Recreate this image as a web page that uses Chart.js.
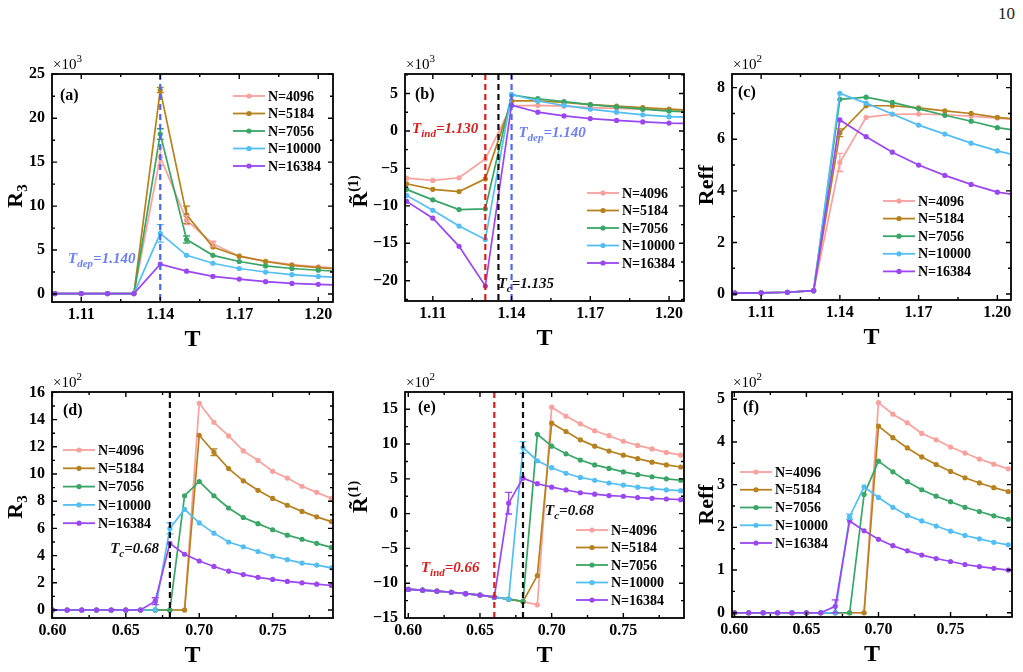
<!DOCTYPE html>
<html>
<head>
<meta charset="utf-8">
<script src="https://cdn.jsdelivr.net/npm/chart.js@4.4.1/dist/chart.umd.min.js"></script>
<style>
  body { margin: 0; background: #fff; width: 1023px; height: 672px; position: relative; overflow: hidden; }
  canvas { position: absolute; }
  #pageNum { position: absolute; right: 8px; top: 4px; font: 17px "Liberation Serif", serif; color: #222; }
</style>
</head>
<body>
<div id="pageNum">10</div>
<canvas id="cA"></canvas>
<canvas id="cB"></canvas>
<canvas id="cC"></canvas>
<canvas id="cD"></canvas>
<canvas id="cE"></canvas>
<canvas id="cF"></canvas>
<script>
const SERIF = '"Liberation Serif", "Times New Roman", serif';

// series
const seriesNames = ['N=4096', 'N=5184', 'N=7056', 'N=10000', 'N=16384'];
const seriesColors = ['#f8a19d', '#b5821f', '#39a566', '#53bef4', '#9a46f1'];

// temperatures (top row runs one step past the right edge)
const tTop = [1.10, 1.11, 1.12, 1.13, 1.14, 1.15, 1.16, 1.17, 1.18, 1.19, 1.20, 1.21];
const tBot = [0.60, 0.61, 0.62, 0.63, 0.64, 0.65, 0.66, 0.67, 0.68, 0.69,
              0.70, 0.71, 0.72, 0.73, 0.74, 0.75, 0.76, 0.77, 0.78, 0.79];

// tick labels
const xTicksTop = [1.11, 1.14, 1.17, 1.20];
const xTicksBot = [0.60, 0.65, 0.70, 0.75];
const yTicksA = [0, 5, 10, 15, 20, 25];
const yTicksB = [-20, -15, -10, -5, 0, 5];
const yTicksC = [0, 2, 4, 6, 8];
const yTicksD = [0, 2, 4, 6, 8, 10, 12, 14, 16];
const yTicksE = [-15, -10, -5, 0, 5, 10, 15];
const yTicksF = [0, 1, 2, 3, 4, 5];

// (a) R3, x10^3
const a4096  = [0.05, 0.05, 0.05, 0.05, 15.6, 8.4, 5.7, 4.3, 3.75, 3.35, 3.1, 2.9];
const a5184  = [0.05, 0.05, 0.05, 0.05, 23.2, 9.0, 5.35, 4.3, 3.7, 3.25, 3.0, 2.8];
const a7056  = [0.05, 0.05, 0.05, 0.05, 18.2, 6.2, 4.4, 3.7, 3.2, 2.9, 2.7, 2.55];
const a10000 = [0.05, 0.05, 0.05, 0.05, 6.9, 4.4, 3.5, 2.9, 2.5, 2.2, 2.0, 1.85];
const a16384 = [0.05, 0.05, 0.05, 0.05, 3.4, 2.6, 2.0, 1.7, 1.4, 1.2, 1.1, 1.0];

// (b) R~(1), x10^3
const b4096  = [-6.3, -6.6, -6.25, -3.75, 3.35, 3.4, 3.3, 3.1, 3.0, 2.9, 2.8, 2.7];
const b5184  = [-7.05, -7.8, -8.1, -6.4, 4.0, 4.0, 3.8, 3.5, 3.3, 3.1, 2.9, 2.75];
const b7056  = [-7.8, -9.2, -10.5, -10.4, 4.8, 4.3, 3.9, 3.5, 3.2, 2.9, 2.65, 2.5];
const b10000 = [-8.6, -10.6, -12.7, -14.5, 4.9, 4.0, 3.4, 2.9, 2.5, 2.15, 1.9, 1.8];
const b16384 = [-9.4, -11.65, -15.4, -20.7, 3.45, 2.5, 2.0, 1.65, 1.4, 1.2, 1.05, 1.0];

// (c) Reff, x10^2
const c4096  = [0.04, 0.05, 0.07, 0.13, 5.1, 6.85, 6.97, 6.98, 6.95, 6.9, 6.82, 6.75];
const c5184  = [0.04, 0.05, 0.07, 0.13, 6.25, 7.3, 7.3, 7.22, 7.1, 7.0, 6.85, 6.75];
const c7056  = [0.04, 0.05, 0.07, 0.13, 7.55, 7.63, 7.43, 7.18, 6.93, 6.7, 6.45, 6.3];
const c10000 = [0.04, 0.05, 0.07, 0.13, 7.78, 7.4, 6.98, 6.55, 6.2, 5.85, 5.55, 5.3];
const c16384 = [0.04, 0.05, 0.07, 0.13, 6.75, 6.1, 5.5, 5.0, 4.6, 4.25, 3.95, 3.8];

// (d) R3, x10^2
const d4096  = [0, 0, 0, 0, 0, 0, 0, 0, 0, 0, 15.2, 13.8, 12.8, 11.7, 11.0, 10.2, 9.7, 9.1, 8.65, 8.2];
const d5184  = [0, 0, 0, 0, 0, 0, 0, 0, 0, 0, 12.85, 11.6, 10.4, 9.5, 8.8, 8.2, 7.7, 7.25, 6.85, 6.5];
const d7056  = [0, 0, 0, 0, 0, 0, 0, 0, 0, 8.4, 9.45, 8.4, 7.5, 6.8, 6.35, 5.9, 5.5, 5.2, 4.9, 4.6];
const d10000 = [0, 0, 0, 0, 0, 0, 0, 0, 6.0, 7.4, 6.4, 5.65, 5.0, 4.65, 4.3, 3.95, 3.7, 3.45, 3.3, 3.1];
const d16384 = [0, 0, 0, 0, 0, 0, 0, 0.65, 4.9, 4.1, 3.6, 3.2, 2.85, 2.6, 2.4, 2.25, 2.1, 2.0, 1.9, 1.8];

// (e) R~(1), x10^2
const e4096  = [-10.9, -11.0, -11.15, -11.3, -11.5, -11.7, -12.0, -12.3, -12.65, -13.1, 15.3, 14.0, 12.9, 11.9, 11.2, 10.4, 9.8, 9.3, 8.8, 8.4];
const e5184  = [-10.9, -11.0, -11.15, -11.3, -11.5, -11.7, -12.0, -12.3, -12.65, -8.9, 13.0, 11.8, 10.6, 9.7, 9.0, 8.4, 7.9, 7.4, 7.0, 6.7];
const e7056  = [-10.9, -11.0, -11.15, -11.3, -11.5, -11.7, -12.0, -12.3, -12.6, 11.4, 9.7, 8.6, 7.7, 7.0, 6.5, 6.0, 5.6, 5.3, 5.0, 4.8];
const e10000 = [-10.9, -11.0, -11.15, -11.3, -11.5, -11.7, -12.0, -12.3, 9.5, 7.6, 6.6, 5.8, 5.2, 4.8, 4.4, 4.1, 3.8, 3.6, 3.4, 3.3];
const e16384 = [-10.9, -11.0, -11.15, -11.3, -11.5, -11.7, -12.0, 1.5, 5.1, 4.3, 3.8, 3.4, 3.0, 2.8, 2.6, 2.5, 2.3, 2.2, 2.1, 2.0];

// (f) Reff, x10^2
const f4096  = [0, 0, 0, 0, 0, 0, 0, 0, 0, 0, 4.92, 4.65, 4.45, 4.2, 4.05, 3.88, 3.74, 3.6, 3.48, 3.37];
const f5184  = [0, 0, 0, 0, 0, 0, 0, 0, 0, 0, 4.37, 4.1, 3.86, 3.65, 3.47, 3.31, 3.16, 3.04, 2.93, 2.84];
const f7056  = [0, 0, 0, 0, 0, 0, 0, 0, 0, 2.77, 3.55, 3.3, 3.07, 2.88, 2.73, 2.6, 2.47, 2.37, 2.27, 2.19];
const f10000 = [0, 0, 0, 0, 0, 0, 0, 0, 2.25, 2.95, 2.7, 2.47, 2.28, 2.15, 2.03, 1.91, 1.81, 1.73, 1.65, 1.59];
const f16384 = [0, 0, 0, 0, 0, 0, 0, 0.15, 2.15, 1.92, 1.72, 1.57, 1.45, 1.35, 1.27, 1.2, 1.13, 1.08, 1.04, 1.0];

// error bars: [series, point, half width]
const errA = [[0, 4, 1.0], [1, 4, 0.3], [2, 4, 0.6], [3, 4, 1.0], [1, 5, 1.0], [0, 5, 0.5], [2, 5, 0.4], [0, 6, 0.3]];
const errB = [];
const errC = [[0, 4, 0.35], [1, 4, 0.15]];
const errD = [[4, 7, 0.25], [3, 8, 0.4], [1, 11, 0.25]];
const errE = [[4, 7, 1.55], [3, 8, 0.85]];
const errF = [[4, 7, 0.15], [3, 8, 0.06]];

const RED = '#d81f1f', BLUE = '#4d66f2', BLUE_TXT = '#6c80f2', BLACK = '#111';
const PAD_T = 32, PAD_R = 10, X_H = 54;

const fontOf = q => `${q.f || 'bold'} ${q.s}px ${SERIF}`;
function richWidth(ctx, parts) {
  return parts.reduce((w, q) => { ctx.font = fontOf(q); return w + ctx.measureText(q.t).width; }, 0);
}
function drawRich(ctx, parts, x, y, color) {
  ctx.fillStyle = color;
  ctx.textAlign = 'left';
  ctx.textBaseline = 'alphabetic';
  parts.forEach(q => {
    ctx.font = fontOf(q);
    ctx.fillText(q.t, x, y + (q.dy || 0));
    x += ctx.measureText(q.t).width;
  });
}
const tLabel = (sub, val) => [
  { t: 'T', s: 15, f: 'italic bold' },
  { t: sub, s: 11, f: 'italic bold', dy: 4 },
  { t: '=' + val, s: 15, f: 'italic bold' }
];
const minorOf = arr => arr.slice(0, -1).map((v, i) => (v + arr[i + 1]) / 2)
  .concat([arr[0] - (arr[1] - arr[0]) / 2, arr[arr.length - 1] + (arr[1] - arr[0]) / 2]);

const decor = {
  id: 'decor',
  afterDatasetsDraw(chart, args, opts) {
    const p = opts.panel, ctx = chart.ctx, ca = chart.chartArea;
    const xs = chart.scales.x, ys = chart.scales.y;
    ctx.save();
    ctx.beginPath();
    ctx.rect(ca.left, ca.top, ca.right - ca.left, ca.bottom - ca.top);
    ctx.clip();
    p.errs.forEach(([si, pi, e]) => {
      const x = xs.getPixelForValue(p.xs[pi]);
      const v = p.series[si][pi];
      const y1 = ys.getPixelForValue(v + e), y2 = ys.getPixelForValue(v - e);
      ctx.strokeStyle = seriesColors[si];
      ctx.lineWidth = 1.3;
      ctx.beginPath();
      ctx.moveTo(x, y1); ctx.lineTo(x, y2);
      ctx.moveTo(x - 3.5, y1); ctx.lineTo(x + 3.5, y1);
      ctx.moveTo(x - 3.5, y2); ctx.lineTo(x + 3.5, y2);
      ctx.stroke();
    });
    p.vlines.forEach(l => {
      const x = xs.getPixelForValue(l.at);
      ctx.strokeStyle = l.color;
      ctx.lineWidth = 2.2;
      ctx.setLineDash([6, 4]);
      ctx.beginPath();
      ctx.moveTo(x, ca.top); ctx.lineTo(x, ca.bottom);
      ctx.stroke();
    });
    ctx.restore();
  },
  afterDraw(chart, args, opts) {
    const p = opts.panel, ctx = chart.ctx, ca = chart.chartArea;
    const xs = chart.scales.x, ys = chart.scales.y;
    ctx.save();
    // frame + inward ticks on all four sides
    ctx.strokeStyle = '#000';
    ctx.lineWidth = 1.8;
    ctx.strokeRect(ca.left, ca.top, ca.right - ca.left, ca.bottom - ca.top);
    ctx.lineWidth = 1.4;
    const tick = (vals, len, horiz) => vals.forEach(v => {
      if (horiz) {
        if (v <= xs.min || v >= xs.max) return;
        const x = xs.getPixelForValue(v);
        ctx.beginPath();
        ctx.moveTo(x, ca.bottom); ctx.lineTo(x, ca.bottom - len);
        ctx.moveTo(x, ca.top); ctx.lineTo(x, ca.top + len);
        ctx.stroke();
      } else {
        if (v <= ys.min || v >= ys.max) return;
        const y = ys.getPixelForValue(v);
        ctx.beginPath();
        ctx.moveTo(ca.left, y); ctx.lineTo(ca.left + len, y);
        ctx.moveTo(ca.right, y); ctx.lineTo(ca.right - len, y);
        ctx.stroke();
      }
    });
    tick(p.xTicks, 5, true);
    tick(minorOf(p.xTicks), 3, true);
    tick(p.yTicks, 5, false);
    tick(minorOf(p.yTicks), 3, false);

    // multiplier
    drawRich(ctx, [{ t: '\u00d710', s: 15, f: 'normal' }, { t: p.mult, s: 11, f: 'normal', dy: -7 }],
      ca.left + 1, ca.top - 5, '#000');
    // panel letter
    drawRich(ctx, [{ t: p.letter, s: 16 }], ca.left + p.letterPos[0], ca.top + p.letterPos[1], '#000');

    // y title, rotated
    ctx.save();
    ctx.translate(ca.left - p.yTitleDx, (ca.top + ca.bottom) / 2 + p.yTitleShift);
    ctx.rotate(-Math.PI / 2);
    drawRich(ctx, p.yTitle, -richWidth(ctx, p.yTitle) / 2, 0, '#000');
    ctx.restore();

    // notes
    p.notes.forEach(n => drawRich(ctx, n.parts, xs.getPixelForValue(n.x), ys.getPixelForValue(n.y), n.color));

    // legend
    const [lx, ly, step] = p.legend;
    seriesNames.forEach((name, i) => {
      const x = ca.left + lx, y = ca.top + ly + i * step;
      ctx.strokeStyle = seriesColors[i];
      ctx.fillStyle = seriesColors[i];
      ctx.lineWidth = 1.8;
      ctx.beginPath(); ctx.moveTo(x, y); ctx.lineTo(x + 32, y); ctx.stroke();
      ctx.beginPath(); ctx.arc(x + 16, y, 2.6, 0, Math.PI * 2); ctx.fill();
      ctx.font = `bold 14px ${SERIF}`;
      ctx.fillStyle = '#000';
      ctx.textBaseline = 'middle';
      ctx.textAlign = 'left';
      ctx.fillText(name, x + 35, y + 1);
    });
    ctx.restore();
  }
};

const fmtY = v => (v < 0 ? '\u2212' + Math.abs(v) : String(v));

function makePanel(p) {
  const cv = document.getElementById(p.id);
  const w = p.box.r - p.box.l + p.yW + PAD_R;
  const h = p.box.b - p.box.t + PAD_T + X_H;
  cv.width = w; cv.height = h;
  cv.style.width = w + 'px'; cv.style.height = h + 'px';
  cv.style.left = (p.box.l - p.yW) + 'px';
  cv.style.top = (p.box.t - PAD_T) + 'px';

  new Chart(cv, {
    type: 'line',
    data: {
      datasets: p.series.map((ys, i) => ({
        label: seriesNames[i],
        data: p.xs.map((x, j) => ({ x: x, y: ys[j] })),
        borderColor: seriesColors[i],
        backgroundColor: seriesColors[i],
        borderWidth: 1.7,
        pointRadius: 2.6,
        pointBorderWidth: 0,
        order: 4 - i
      }))
    },
    options: {
      responsive: false,
      animation: false,
      devicePixelRatio: 1,
      layout: { padding: { top: PAD_T, right: PAD_R, left: 0, bottom: 0 } },
      plugins: { legend: { display: false }, tooltip: { enabled: false }, decor: { panel: p } },
      scales: {
        x: {
          type: 'linear', min: p.xMin, max: p.xMax,
          afterBuildTicks: s => { s.ticks = p.xTicks.map(v => ({ value: v })); },
          afterFit: s => { s.height = X_H; },
          grid: { display: false, drawTicks: false, tickLength: 0 }, border: { display: false },
          ticks: {
            padding: 3, color: '#000', autoSkip: false, maxRotation: 0,
            font: { family: SERIF, size: 16, weight: 'bold' },
            callback: v => v.toFixed(2)
          },
          title: {
            display: true, text: 'T', color: '#000',
            font: { family: SERIF, size: 24, weight: 'bold' },
            padding: { top: 0, bottom: 2 }
          }
        },
        y: {
          type: 'linear', min: p.yMin, max: p.yMax,
          afterBuildTicks: s => { s.ticks = p.yTicks.map(v => ({ value: v })); },
          afterFit: s => { s.width = p.yW; },
          grid: { display: false, drawTicks: false, tickLength: 0 }, border: { display: false },
          ticks: {
            padding: 7, color: '#000', autoSkip: false,
            font: { family: SERIF, size: 16, weight: 'bold' },
            callback: fmtY
          }
        }
      }
    },
    plugins: [decor]
  });
}

const R3 = [{ t: 'R', s: 22 }, { t: '3', s: 15, dy: 5 }];
const RT = [{ t: 'R\u0303', s: 22 }, { t: '(1)', s: 14, dy: -9 }];
const REFF = [{ t: 'Reff', s: 22 }];

makePanel({
  id: 'cA', box: { l: 52, t: 74, r: 333, b: 302 }, yW: 52,
  xMin: 1.0989, xMax: 1.2056, yMin: -0.91, yMax: 25.03,
  xs: tTop, series: [a4096, a5184, a7056, a10000, a16384], errs: errA,
  xTicks: xTicksTop, yTicks: yTicksA, mult: '3', letter: '(a)', letterPos: [8, 26],
  yTitle: R3, yTitleDx: 30, yTitleShift: 8,
  legend: [181, 22, 17.5],
  vlines: [{ at: 1.14, color: BLUE }],
  notes: [{ x: 1.105, y: 3.5, parts: tLabel('dep', '1.140'), color: BLUE_TXT }]
});

makePanel({
  id: 'cB', box: { l: 405, t: 74, r: 684, b: 301 }, yW: 64,
  xMin: 1.0994, xMax: 1.2057, yMin: -22.7, yMax: 7.6,
  xs: tTop, series: [b4096, b5184, b7056, b10000, b16384], errs: errB,
  xTicks: xTicksTop, yTicks: yTicksB, mult: '3', letter: '(b)', letterPos: [10, 25],
  yTitle: RT, yTitleDx: 38, yTitleShift: 4,
  legend: [182, 119, 17.5],
  vlines: [{ at: 1.13, color: RED }, { at: 1.135, color: BLACK }, { at: 1.14, color: BLUE }],
  notes: [
    { x: 1.1021, y: -0.3, parts: tLabel('ind', '1.130'), color: RED },
    { x: 1.1426, y: -0.85, parts: tLabel('dep', '1.140'), color: BLUE_TXT },
    { x: 1.1347, y: -20.9, parts: tLabel('c', '1.135'), color: BLACK }
  ]
});

makePanel({
  id: 'cC', box: { l: 732, t: 74, r: 1011, b: 300 }, yW: 44,
  xMin: 1.0989, xMax: 1.2052, yMin: -0.23, yMax: 8.53,
  xs: tTop, series: [c4096, c5184, c7056, c10000, c16384], errs: errC,
  xTicks: xTicksTop, yTicks: yTicksC, mult: '2', letter: '(c)', letterPos: [6, 23],
  yTitle: REFF, yTitleDx: 19, yTitleShift: -2,
  legend: [151, 127, 17.6],
  vlines: [], notes: []
});

makePanel({
  id: 'cD', box: { l: 52, t: 392, r: 333, b: 618 }, yW: 52,
  xMin: 0.5997, xMax: 0.7911, yMin: -0.59, yMax: 16.03,
  xs: tBot, series: [d4096, d5184, d7056, d10000, d16384], errs: errD,
  xTicks: xTicksBot, yTicks: yTicksD, mult: '2', letter: '(d)', letterPos: [11, 23],
  yTitle: R3, yTitleDx: 30, yTitleShift: 2,
  legend: [11, 58, 18.3],
  vlines: [{ at: 0.68, color: BLACK }],
  notes: [{ x: 0.6393, y: 4.2, parts: tLabel('c', '0.68'), color: BLACK }]
});

makePanel({
  id: 'cE', box: { l: 405, t: 392, r: 684, b: 618 }, yW: 64,
  xMin: 0.5977, xMax: 0.7923, yMin: -15, yMax: 17.48,
  xs: tBot, series: [e4096, e5184, e7056, e10000, e16384], errs: errE,
  xTicks: xTicksBot, yTicks: yTicksE, mult: '2', letter: '(e)', letterPos: [13, 20],
  yTitle: RT, yTitleDx: 38, yTitleShift: -8,
  legend: [171, 138, 17.5],
  vlines: [{ at: 0.66, color: RED }, { at: 0.68, color: BLACK }],
  notes: [
    { x: 0.6954, y: -0.25, parts: tLabel('c', '0.68'), color: BLACK },
    { x: 0.6088, y: -8.4, parts: tLabel('ind', '0.66'), color: RED }
  ]
});

makePanel({
  id: 'cF', box: { l: 732, t: 392, r: 1012, b: 617 }, yW: 44,
  xMin: 0.5984, xMax: 0.7926, yMin: -0.1, yMax: 5.17,
  xs: tBot, series: [f4096, f5184, f7056, f10000, f16384], errs: errF,
  xTicks: xTicksBot, yTicks: yTicksF, mult: '2', letter: '(f)', letterPos: [11, 20],
  yTitle: REFF, yTitleDx: 19, yTitleShift: 0,
  legend: [8, 80, 17.75],
  vlines: [], notes: []
});
</script>
</body>
</html>
